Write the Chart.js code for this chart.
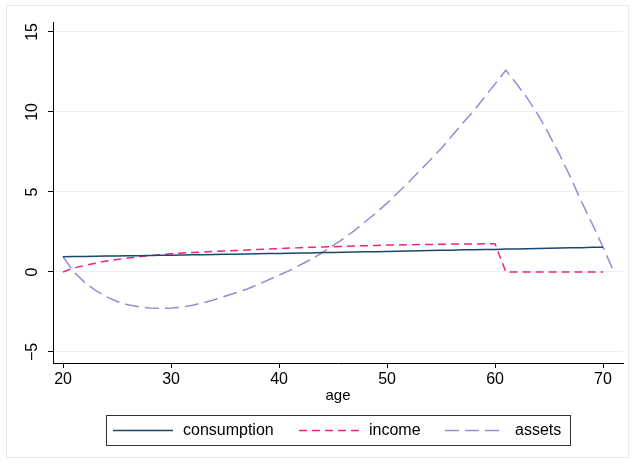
<!DOCTYPE html>
<html>
<head>
<meta charset="utf-8">
<script src="https://cdn.jsdelivr.net/npm/chart.js@4/dist/chart.umd.min.js"></script>
<style>
html, body { margin: 0; padding: 0; background: #fff; }
#wrap { width: 635px; height: 464px; }
</style>
</head>
<body>
<div id="wrap"><canvas id="grafico" width="635" height="464"></canvas></div>
<script>
// Dados (idade 20 a 71)
const idades = [20, 21, 22, 23, 24, 25, 26, 27, 28, 29,
                30, 31, 32, 33, 34, 35, 36, 37, 38, 39,
                40, 41, 42, 43, 44, 45, 46, 47, 48, 49,
                50, 51, 52, 53, 54, 55, 56, 57, 58, 59,
                60, 61, 62, 63, 64, 65, 66, 67, 68, 69,
                70, 71];

const consumo = [0.95, 0.96, 0.97, 0.98, 0.99, 1.00, 1.01, 1.02, 1.03, 1.04,
                 1.05, 1.06, 1.07, 1.08, 1.09, 1.10, 1.11, 1.12, 1.13, 1.15,
                 1.16, 1.17, 1.18, 1.19, 1.21, 1.22, 1.23, 1.24, 1.26, 1.27,
                 1.28, 1.30, 1.31, 1.32, 1.34, 1.35, 1.36, 1.38, 1.39, 1.40,
                 1.41, 1.43, 1.44, 1.45, 1.47, 1.48, 1.49, 1.51, 1.52, 1.54,
                 1.55, null];

const renda = [0, 0.25, 0.40, 0.55, 0.68, 0.78, 0.87, 0.95, 1.02, 1.08,
               1.13, 1.18, 1.22, 1.25, 1.28, 1.31, 1.34, 1.37, 1.40, 1.43,
               1.46, 1.49, 1.52, 1.54, 1.56, 1.58, 1.60, 1.62, 1.64, 1.66,
               1.68, 1.69, 1.70, 1.71, 1.72, 1.73, 1.74, 1.745, 1.75, 1.755,
               1.76, 0, 0, 0, 0, 0, 0, 0, 0, 0,
               0, null];

const ativos = [0.95, 0.0, -0.65, -1.15, -1.55, -1.85, -2.05, -2.18, -2.25, -2.28,
                -2.26, -2.2, -2.08, -1.92, -1.74, -1.52, -1.3, -1.08, -0.8, -0.5,
                -0.2, 0.1, 0.45, 0.8, 1.2, 1.65, 2.1, 2.6, 3.15, 3.7,
                4.3, 4.95, 5.6, 6.3, 7.0, 7.7, 8.5, 9.3, 10.05, 10.9,
                11.75, 12.6, 11.75, 10.85, 9.8, 8.6, 7.3, 5.9, 4.4, 3.0,
                1.55, 0];

const ticksX = [20, 30, 40, 50, 60, 70];
const ticksY = [-5, 0, 5, 10, 15];

const fonte = 'Liberation Sans, Arial, sans-serif';

// monta pares {x, y} para o eixo linear
function pontos(serie) {
    return idades.map((idade, i) => ({ x: idade, y: serie[i] }));
}

// Legenda e moldura no estilo do Stata
const legendaStata = {
    id: 'legendaStata',
    afterDraw(chart) {
        const ctx = chart.ctx;
        ctx.save();

        // moldura externa
        ctx.strokeStyle = '#e6ebef';
        ctx.lineWidth = 1;
        ctx.strokeRect(6.5, 5.5, 622, 452);

        // caixa da legenda
        ctx.strokeStyle = '#333';
        ctx.strokeRect(106.5, 415.5, 464, 30);

        const posicoes = [113, 299, 445];
        ctx.font = '16px ' + fonte;
        ctx.textBaseline = 'middle';
        chart.data.datasets.forEach((ds, i) => {
            const x0 = posicoes[i];
            ctx.beginPath();
            ctx.strokeStyle = ds.borderColor;
            ctx.lineWidth = ds.borderWidth;
            ctx.setLineDash(ds.borderDash || []);
            ctx.moveTo(x0, 430.5);
            ctx.lineTo(x0 + 60, 430.5);
            ctx.stroke();
            ctx.setLineDash([]);
            ctx.fillStyle = '#000';
            ctx.fillText(ds.label, x0 + 70, 431);
        });
        ctx.restore();
    }
};

const ctx = document.getElementById('grafico').getContext('2d');
new Chart(ctx, {
    type: 'line',
    data: {
        datasets: [{
            label: 'consumption',
            data: pontos(consumo),
            borderColor: '#1a476f',
            borderWidth: 1.5
        }, {
            label: 'income',
            data: pontos(renda),
            borderColor: '#f0247f',
            borderWidth: 1.5,
            borderDash: [8, 5]
        }, {
            label: 'assets',
            data: pontos(ativos),
            borderColor: '#938dd2',
            borderWidth: 1.5,
            borderDash: [14, 6]
        }]
    },
    options: {
        responsive: false,
        animation: false,
        layout: { padding: { top: 22, right: 12, bottom: 59, left: 0 } },
        elements: { point: { radius: 0 }, line: { tension: 0 } },
        plugins: { legend: { display: false }, tooltip: { enabled: false } },
        scales: {
            x: {
                type: 'linear',
                min: 19.07,
                max: 71.85,
                afterBuildTicks: s => { s.ticks = ticksX.map(v => ({ value: v })); },
                afterFit: s => { s.height = 42; },
                grid: { drawOnChartArea: false, drawTicks: true, tickLength: 5, tickColor: '#000' },
                border: { display: true, color: '#000', width: 1 },
                ticks: { color: '#000', font: { family: fonte, size: 16 }, padding: 2, maxRotation: 0, autoSkip: false },
                title: { display: true, text: 'age', color: '#000', font: { family: fonte, size: 15 }, padding: 0 }
            },
            y: {
                min: -5.69,
                max: 15.62,
                afterBuildTicks: s => { s.ticks = ticksY.map(v => ({ value: v })); },
                afterFit: s => { s.width = 53; },
                grid: { color: '#eaf0f2', tickColor: '#000', tickLength: 5, lineWidth: 1 },
                border: { display: true, color: '#000', width: 1 },
                ticks: {
                    color: '#000',
                    font: { family: fonte, size: 16 },
                    minRotation: 90,
                    maxRotation: 90,
                    autoSkip: false,
                    crossAlign: 'center',
                    padding: 6,
                    callback: v => v < 0 ? '\u2212' + Math.abs(v) : String(v)
                }
            }
        }
    },
    plugins: [legendaStata]
});
</script>
</body>
</html>
